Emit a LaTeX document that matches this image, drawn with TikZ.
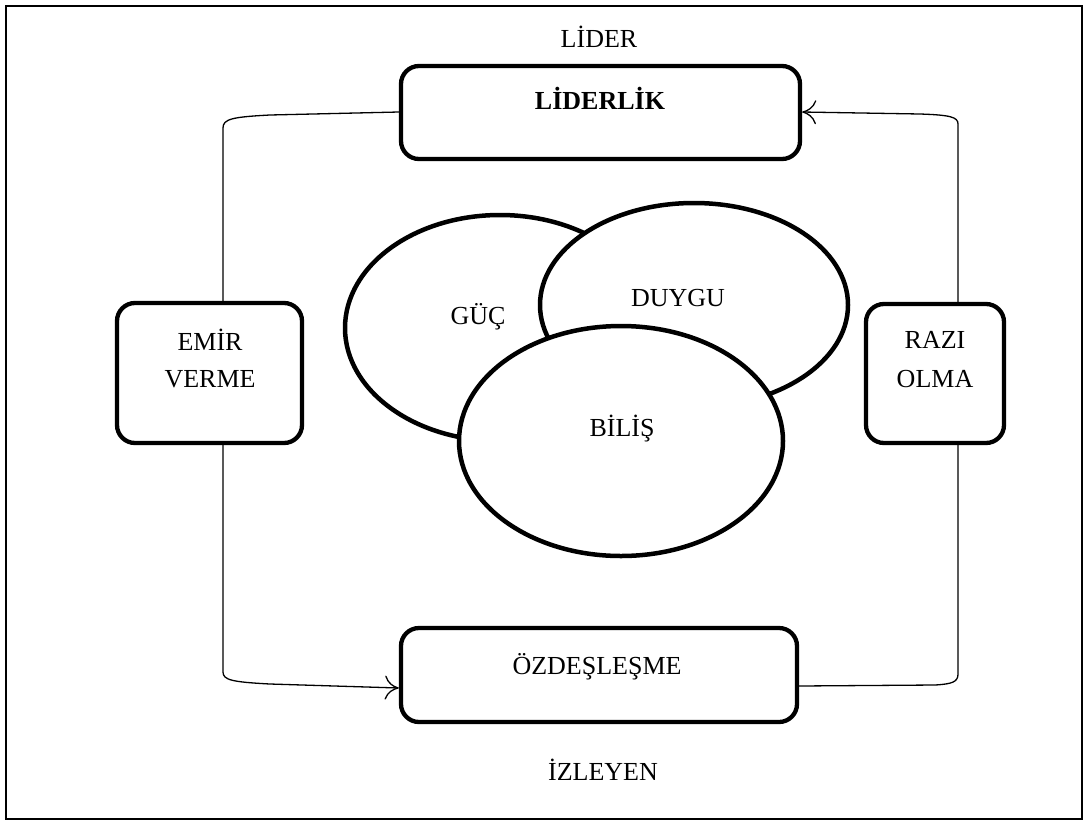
\documentclass[tikz,border=0pt]{standalone}
\usepackage{fontspec}
\setmainfont{Liberation Serif}
\usetikzlibrary{arrows.meta}
\begin{document}
\begin{tikzpicture}[x=1pt,y=-1pt,
  txt/.style={font=\fontsize{26}{30}\selectfont, inner sep=0pt, anchor=base},
  rbox/.style={draw, line width=4.3pt, rounded corners=18pt, fill=white},
  ell/.style={draw, line width=4.5pt, fill=white},
  conn/.style={line width=1.3pt},
  arr/.style={conn, -{To[length=14pt,width=24pt]}}]
\useasboundingbox (0,0) rectangle (1089,825);
\draw[line width=2pt] (6,6) rectangle (1082,819);
% boxes
\node[rbox, minimum width=399pt, minimum height=93pt] (lid) at (600.5,112.5) {};
\node[txt, font=\fontsize{26}{30}\selectfont\bfseries] (lidt) at (600,109) {LİDERLİK};
\node[rbox, minimum width=396pt, minimum height=94pt] (ozd) at (599,675) {};
\node[txt] (ozdt) at (597,674) {ÖZDEŞLEŞME};
\node[rbox, minimum width=185pt, minimum height=140pt] (emir) at (209.5,373) {};
\node[txt] (emir1) at (210,350) {EMİR};
\node[txt] (emir2) at (210,387) {VERME};
\node[rbox, minimum width=138pt, minimum height=139pt] (razi) at (935,373.5) {};
\node[txt] (razi1) at (935,348) {RAZI};
\node[txt] (razi2) at (935,387) {OLMA};
\node[txt] (lider) at (599,47) {LİDER};
\node[txt] (izl) at (603,780) {İZLEYEN};
% ellipses
\draw[ell] (500,328) ellipse [x radius=155, y radius=113];
\node[txt] (guc) at (478,324) {GÜÇ};
\draw[ell] (694,305) ellipse [x radius=154, y radius=102];
\node[txt] (duy) at (678,306) {DUYGU};
\draw[ell] (621,441) ellipse [x radius=162, y radius=115];
\node[txt] (bil) at (622,436) {BİLİŞ};
% connector end points
\coordinate (lw) at (lid.west |- 0,112);
\coordinate (le) at (lid.east |- 0,112);
\coordinate (ow) at (ozd.west |- 0,688);
\coordinate (oe) at (ozd.east |- 0,686);
\coordinate (en) at (223,0 |- emir.north);
\coordinate (es) at (223,0 |- emir.south);
\coordinate (rn) at (958,0 |- razi.north);
\coordinate (rs) at (958,0 |- razi.south);
% connectors
\draw[conn] (lw) -- (270,115) .. controls (232,117) and (223,119) .. (223,128) -- (en);
\draw[arr] (es) -- (223,672) .. controls (223,680) and (232,682) .. (270,684) -- (ow);
\draw[conn] (oe) -- (935,685) .. controls (952,684) and (958,682) .. (958,674) -- (rs);
\draw[arr] (rn) -- (958,124) .. controls (958,117) and (950,115) .. (920,114) -- (le);
\end{tikzpicture}
\end{document}
